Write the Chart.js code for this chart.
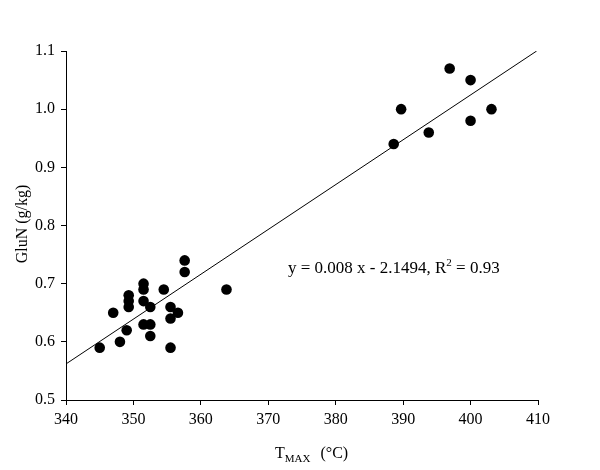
<!DOCTYPE html>
<html>
<head>
<meta charset="utf-8">
<script src="https://cdn.jsdelivr.net/npm/chart.js@4/dist/chart.umd.min.js"></script>
<style>
  html, body { margin: 0; padding: 0; background: #fff; }
  #wrap { width: 600px; height: 470px; }
</style>
</head>
<body>
<div id="wrap"><canvas id="myChart" width="600" height="470"></canvas></div>
<script>
// Measured points (Tmax in °C, GluN in g/kg)
var tmax = [345, 348, 347, 349, 349.3, 349.3, 349.3, 351.5, 351.5, 351.5, 351.5,
            352.5, 352.5, 352.5, 354.5, 355.5, 356.6, 355.5, 355.5, 357.6, 357.6, 363.8,
            388.6, 389.7, 393.8, 396.9, 400, 400, 403.1];
var glun = [0.59, 0.60, 0.65, 0.62, 0.66, 0.67, 0.68, 0.70, 0.69, 0.67, 0.63,
            0.66, 0.63, 0.61, 0.69, 0.66, 0.65, 0.64, 0.59, 0.72, 0.74, 0.69,
            0.94, 1.00, 0.96, 1.07, 1.05, 0.98, 1.00];

// Fitted line ends, as drawn
var fitX = [340, 409.8];
var fitY = [0.562, 1.10];

var xTicks = [340, 350, 360, 370, 380, 390, 400, 410];
var yTicks = [0.5, 0.6, 0.7, 0.8, 0.9, 1.0, 1.1];

var serif = '"Liberation Serif", "Times New Roman", serif';

var titles = {
  id: 'titles',
  afterDraw: function (chart) {
    var c = chart.ctx;
    c.save();
    c.fillStyle = '#000';
    c.textBaseline = 'alphabetic';

    // y title
    c.save();
    c.translate(27, 224);
    c.rotate(-Math.PI / 2);
    c.font = '16px ' + serif;
    c.textAlign = 'center';
    c.fillText('GluN (g/kg)', 0, 0);
    c.restore();

    // x title with subscript
    c.textAlign = 'left';
    var x = 275;
    c.font = '16px ' + serif;
    c.fillText('T', x, 458);
    x += c.measureText('T').width;
    c.font = '11px ' + serif;
    c.fillText('MAX', x, 462);
    x += c.measureText('MAX').width + 10;
    c.font = '16px ' + serif;
    c.fillText('(\u00B0C)', x, 458);

    // equation with superscript
    x = 288;
    var base = 273;
    c.font = '17px ' + serif;
    var s1 = 'y = 0.008 x - 2.1494, R';
    c.fillText(s1, x, base);
    x += c.measureText(s1).width;
    c.font = '11px ' + serif;
    c.fillText('2', x, base - 7);
    x += c.measureText('2').width;
    c.font = '17px ' + serif;
    c.fillText(' = 0.93', x, base);
    c.restore();
  }
};

var ctx = document.getElementById('myChart');

var myChart = new Chart(ctx, {
  type: 'scatter',
  data: {
    datasets: [
      {
        label: 'GluN',
        data: tmax.map(function (t, i) { return { x: t, y: glun[i] }; }),
        backgroundColor: '#000',
        borderColor: '#000',
        borderWidth: 0,
        pointRadius: 5.3,
        pointHoverRadius: 5.3
      },
      {
        label: 'fit',
        type: 'line',
        data: fitX.map(function (t, i) { return { x: t, y: fitY[i] }; }),
        borderColor: '#000',
        borderWidth: 1,
        pointRadius: 0,
        fill: false
      }
    ]
  },
  options: {
    responsive: false,
    animation: false,
    events: [],
    layout: { padding: { left: 0, right: 62, top: 51, bottom: 0 } },
    scales: {
      x: {
        type: 'linear',
        min: 340,
        max: 410,
        afterBuildTicks: function (s) { s.ticks = xTicks.map(function (v) { return { value: v }; }); },
        afterFit: function (s) { s.height = 70; },
        ticks: {
          color: '#000',
          padding: 5,
          font: { family: serif, size: 16 },
          callback: function (v) { return v; }
        },
        grid: { drawOnChartArea: false, drawTicks: true, tickLength: 5, color: '#000' },
        border: { display: true, color: '#000', width: 1 }
      },
      y: {
        min: 0.5,
        max: 1.1,
        afterBuildTicks: function (s) { s.ticks = yTicks.map(function (v) { return { value: v }; }); },
        afterFit: function (s) { s.width = 66; },
        ticks: {
          color: '#000',
          padding: 6,
          font: { family: serif, size: 16 },
          callback: function (v) { return Number(v).toFixed(1); }
        },
        grid: { drawOnChartArea: false, drawTicks: true, tickLength: 5, color: '#000' },
        border: { display: true, color: '#000', width: 1 }
      }
    },
    plugins: {
      legend: { display: false },
      tooltip: { enabled: false }
    }
  },
  plugins: [titles]
});
</script>
</body>
</html>
